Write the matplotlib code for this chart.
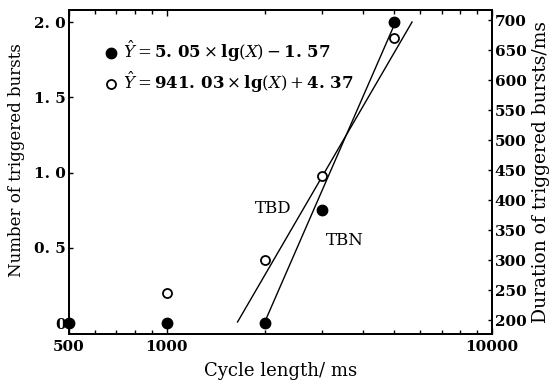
import matplotlib
matplotlib.use('Agg')
import matplotlib.pyplot as plt
from matplotlib.lines import Line2D
from matplotlib.ticker import FixedLocator, NullFormatter

# data
cycle_len = [500, 1000, 2000, 3000, 5000]           # ms
tbn = [0, 0, 0, 0.75, 2.0]                           # number of triggered bursts
tbd_x = [1000, 2000, 3000, 5000]
tbd = [245, 300, 440, 670]                           # duration, ms

# regression line end points
tbn_fit_x = [1995, 5075]
tbn_fit_y = [0.0, 2.01]
tbd_fit_x = [1650, 5680]
tbd_fit_y = [197, 697]

xticks = [500, 1000, 10000]
xticklabels = ['500', '1000', '10000']
yticks = [0, 0.5, 1.0, 1.5, 2.0]
yticklabels = ['0', '0. 5', '1. 0', '1. 5', '2. 0']
rticks = [200, 250, 300, 350, 400, 450, 500, 550, 600, 650, 700]

plt.rcParams['font.family'] = 'DejaVu Serif'
plt.rcParams['mathtext.fontset'] = 'dejavuserif'

fig = plt.figure(figsize=(5.55, 3.85), dpi=100)
ax = fig.add_axes([0.1243, 0.1325, 0.762, 0.8415])
ax2 = ax.twinx()

ax.plot(tbn_fit_x, tbn_fit_y, 'k-', lw=1.0)
ax2.plot(tbd_fit_x, tbd_fit_y, 'k-', lw=1.0)
ax.plot(cycle_len, tbn, 'o', color='k', ms=7.5, clip_on=False, zorder=5)
ax2.plot(tbd_x, tbd, 'o', mfc='white', mec='k', mew=1.3, ms=6.5, zorder=5)

ax.set_xscale('log')
ax.set_xlim(500, 10000)
ax.set_ylim(-0.073, 2.08)
ax2.set_ylim(177, 717)

ax.xaxis.set_major_locator(FixedLocator(xticks))
ax.set_xticklabels(xticklabels, fontsize=11, fontweight='bold')
minor = [600, 700, 800, 900, 2000, 3000, 4000, 5000, 6000, 7000, 8000, 9000]
ax.xaxis.set_minor_locator(FixedLocator(minor))
ax.xaxis.set_minor_formatter(NullFormatter())

ax.set_yticks(yticks)
ax.set_yticklabels(yticklabels, fontsize=11, fontweight='bold')
ax2.set_yticks(rticks)
ax2.set_yticklabels([str(v) for v in rticks], fontsize=11, fontweight='bold')

ax.tick_params(axis='both', which='both', direction='in', top=True, length=3, width=1, pad=2)
ax.tick_params(axis='x', which='major', length=4, pad=4)
ax2.tick_params(axis='y', direction='in', length=3, width=1, pad=2)
for a in (ax, ax2):
    for s in a.spines.values():
        s.set_linewidth(1.3)

ax.set_xlabel('Cycle length/ ms', fontsize=13, labelpad=6)
ax.set_ylabel('Number of triggered bursts', fontsize=12)
ax.yaxis.set_label_coords(-0.104, 0.537)
ax2.set_ylabel('Duration of triggered bursts/ms', fontsize=13.5, labelpad=4)

ax.text(2130, 0.76, 'TBD', fontsize=12, ha='center', va='center')
ax.text(3540, 0.55, 'TBN', fontsize=12, ha='center', va='center')

handles = [Line2D([], [], ls='none', marker='o', color='k', ms=7.5),
           Line2D([], [], ls='none', marker='o', mfc='white', mec='k', mew=1.3, ms=6.5)]
labels = [r'$\hat{Y}=\mathbf{5.\,05}\times\mathbf{lg}(X)-\mathbf{1.\,57}$',
          r'$\hat{Y}=\mathbf{941.\,03}\times\mathbf{lg}(X)+\mathbf{4.\,37}$']
ax.legend(handles, labels, loc='upper left', bbox_to_anchor=(0.065, 0.93),
          frameon=False, fontsize=12, handletextpad=0.2, handlelength=1.0,
          labelspacing=0.35, borderaxespad=0)

fig.savefig('out.png', dpi=100)
